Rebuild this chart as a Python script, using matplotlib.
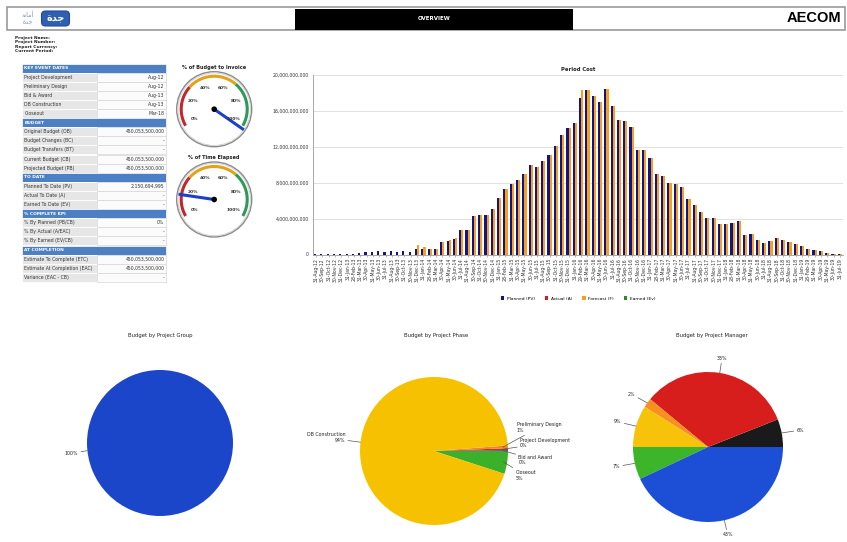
import calendar

import matplotlib
matplotlib.use("Agg")
import matplotlib.pyplot as plt
import numpy as np
from matplotlib.patches import Rectangle, Circle, FancyBboxPatch
from matplotlib.ticker import FuncFormatter

W, H = 847, 542

# ---- period cost, monthly Aug-12 .. Jul-19 (values in billions) ----
period_labels = []
for k in range(84):
    yr, mo = 2012 + (7 + k) // 12, (7 + k) % 12 + 1
    period_labels.append(
        f"{calendar.monthrange(yr, mo)[1]:02d}-{calendar.month_abbr[mo]}-{yr % 100:02d}"
    )

planned_bn = [
    0.02, 0.02, 0.03, 0.03, 0.04, 0.05, 0.10, 0.15, 0.25, 0.30, 0.35, 0.30, 0.35, 0.30, 0.35, 0.25,
    0.60, 0.60, 0.65, 0.65, 1.37, 1.50, 1.70, 2.70, 2.70, 4.33, 4.40, 4.40, 5.10, 6.30, 7.26, 7.90,
    8.30, 9.00, 10.0, 9.70, 10.4, 11.1, 12.1, 13.3, 14.1,
    14.7, 17.4, 18.3, 17.7, 17.0, 18.4, 16.6, 15.0, 14.9, 14.2, 11.6, 11.6, 10.7, 9.00, 8.70, 8.00,
    7.80, 7.50, 6.20, 5.50, 4.70, 4.10, 4.10, 3.40, 3.40, 3.55, 3.70, 2.15, 2.30, 1.65, 1.30, 1.50,
    1.80, 1.65, 1.40, 1.20, 1.00, 0.60, 0.55, 0.40, 0.15, 0.10, 0.08,
]
forecast_bn = [
    0.0, 0.0, 0.0, 0.0, 0.0, 0.0, 0.0, 0.0, 0.0, 0.0, 0.0, 0.0, 0.0, 0.0, 0.0, 0.0,
    1.10, 0.85, 0.65, 0.65, 1.37, 1.60, 1.80, 2.70, 2.70, 4.33, 4.40, 4.40, 5.10, 6.30, 7.26, 7.90,
    8.30, 9.00, 10.0, 9.70, 10.4, 11.1, 12.1, 13.3, 14.1,
    14.7, 18.3, 18.3, 17.7, 17.0, 18.4, 16.6, 15.0, 14.9, 14.2, 11.6, 11.6, 10.7, 9.00, 8.70, 8.00,
    7.80, 7.50, 6.20, 5.50, 4.70, 4.10, 4.10, 3.40, 3.40, 3.55, 3.70, 2.15, 2.30, 1.65, 1.30, 1.50,
    1.80, 1.65, 1.40, 1.20, 1.00, 0.60, 0.55, 0.40, 0.15, 0.10, 0.08,
]
actual_bn = [0.0] * len(period_labels)
earned_bn = [0.0] * len(period_labels)

# ---- gauges ----
budget_to_invoice = 102
time_elapsed = 16

# ---- pies ----
group_names = ["Project Group"]
group_share = [100]

phase_names = ["Closeout", "Bid and Award", "Project Development", "Preliminary Design", "DB Construction"]
phase_share = [5.0, 0.2, 0.4, 0.6, 93.8]

manager_share = [6, 33, 2, 9, 7, 43]

# ---- summary table ----
table_rows = [
    ("KEY EVENT DATES", None),
    ("Project Development", "Aug-12"),
    ("Preliminary Design", "Aug-12"),
    ("Bid & Award", "Aug-13"),
    ("DB Construction", "Aug-13"),
    ("Closeout", "Mar-18"),
    ("BUDGET", None),
    ("Original Budget (OB)", "450,053,500,000"),
    ("Budget Changes (BC)", "-"),
    ("Budget Transfers (BT)", "-"),
    ("Current Budget (CB)", "450,053,500,000"),
    ("Projected Budget (PB)", "450,053,500,000"),
    ("TO DATE", None),
    ("Planned To Date (PV)", "2,150,694,995"),
    ("Actual To Date (A)", "-"),
    ("Earned To Date (EV)", "-"),
    ("% COMPLETE KPI", None),
    ("% By Planned (PB/CB)", "0%"),
    ("% By Actual (A/EAC)", "-"),
    ("% By Earned (EV/CB)", "-"),
    ("AT COMPLETION", None),
    ("Estimate To Complete (ETC)", "450,053,500,000"),
    ("Estimate At Completion (EAC)", "450,053,500,000"),
    ("Variance (EAC - CB)", "-"),
]

info_lines = ["Project Name:", "Project Number:", "Report Currency:", "Current Period:"]

C_PV, C_A, C_F, C_EV = "#12128c", "#e3161b", "#f9a01b", "#2b8a2b"
TXT = "#222222"


def px_box(left, top, w, h):
    return [left / W, 1 - (top + h) / H, w / W, h / H]


fig = plt.figure(figsize=(W / 100, H / 100), dpi=100)
fig.patch.set_facecolor("white")

# full-page overlay in pixel coordinates
ax0 = fig.add_axes([0, 0, 1, 1])
ax0.set_xlim(0, W)
ax0.set_ylim(H, 0)
ax0.axis("off")

# header
ax0.add_patch(Rectangle((6.5, 7), 838.5, 23, fc="white", ec="#9a9a9a", lw=1.2))
ax0.add_patch(Rectangle((295, 8.5), 278, 21.5, fc="black", ec="none"))
ax0.text(434, 18.5, "OVERVIEW", color="white", fontsize=4, fontweight="bold", ha="center", va="center")
ax0.text(841, 18, "AECOM", fontsize=10.5, fontweight="bold", ha="right", va="center",
         family="Liberation Sans", color="black")
# logo
ax0.text(28, 14.5, "\uFE94\uFEE7\uFE8E\uFEE3\uFE83", fontsize=4.5, color="#7f93aa", ha="center",
         va="center", family="DejaVu Sans")
ax0.text(28, 22.5, "\uFE93\uFEAA\uFE9F", fontsize=4.5, color="#7f93aa", ha="center",
         va="center", family="DejaVu Sans")
ax0.add_patch(FancyBboxPatch((43, 12.5), 25, 12, boxstyle="round,pad=1.5,rounding_size=4",
                             fc="#2f5fb0", ec="#1f4a9a", lw=0.8))
ax0.text(55.5, 18.5, "\uFE93\uFEAA\uFE9F", fontsize=7, fontweight="bold", color="white",
         ha="center", va="center", family="DejaVu Sans")

for i, line in enumerate(info_lines):
    ax0.text(15, 38.3 + i * 4.2, line, fontsize=3.2, fontweight="bold", color=TXT, va="center")

# summary table
top, rh, x0, xm, x1 = 63.5, 9.1, 22, 97, 166
for i, (label, val) in enumerate(table_rows):
    y = top + i * rh
    if val is None:
        ax0.add_patch(Rectangle((x0, y), x1 - x0, rh, fc="#4d7fc4", ec="white", lw=0.5))
        ax0.text(x0 + 2.5, y + rh / 2, label, color="white", fontsize=3.2, fontweight="bold", va="center")
    else:
        ax0.add_patch(Rectangle((x0, y), xm - x0, rh, fc="#e6e6e6", ec="white", lw=0.6))
        ax0.add_patch(Rectangle((xm, y), x1 - xm, rh, fc="#fbfbfb", ec="#d6d6d6", lw=0.5))
        ax0.text(x0 + 2.5, y + rh / 2, label, color="#333333", fontsize=3.3, va="center")
        ax0.text(x1 - 1.5, y + rh / 2, val, color="#333333", fontsize=3.3, va="center", ha="right")


# gauges
def gauge_angle(v):
    return np.radians(210 - 2.4 * v)


def draw_gauge(cx, cy, value, title):
    ax0.text(cx, cy - 41.5, title, fontsize=3.6, fontweight="bold", ha="center", va="center", color=TXT)
    ax0.add_patch(Circle((cx, cy), 37.5, fc="white", ec="#8a8a8a", lw=1.0))
    ax0.add_patch(Circle((cx, cy), 36.2, fc="none", ec="#c8c8c8", lw=0.5))
    for lo, hi, col in [(0, 30, "#c1272d"), (30, 67, "#e3a21a"), (67, 100, "#2e9a5a")]:
        t = gauge_angle(np.linspace(lo, hi, 60))
        ax0.plot(cx + 33 * np.cos(t), cy - 33 * np.sin(t), color=col, lw=2.2, solid_capstyle="butt")
    for v in range(0, 101, 20):
        t = gauge_angle(v)
        ax0.text(cx + 22.5 * np.cos(t), cy - 22.5 * np.sin(t) - 1, f"{v}%", fontsize=3.2,
                 fontweight="bold", ha="center", va="center", color="#333333")
    t = gauge_angle(value)
    ax0.plot([cx, cx + 36 * np.cos(t)], [cy, cy - 36 * np.sin(t)], color="#1c3fcc", lw=2.2,
             solid_capstyle="butt")
    ax0.add_patch(Circle((cx, cy), 2.8, fc="black", ec="none", zorder=5))


draw_gauge(214.2, 109.2, budget_to_invoice, "% of Budget to Invoice")
draw_gauge(214.2, 199.5, time_elapsed, "% of Time Elapsed")

# period cost bar chart
ax = fig.add_axes(px_box(313, 75, 530, 179.5))
x = np.arange(len(period_labels))
bw = 0.34
ax.bar(x - bw / 2, np.array(planned_bn) * 1e9, bw, color=C_PV, label="Planned (PV)", zorder=3)
ax.bar(x, np.array(actual_bn) * 1e9, bw, color=C_A, label="Actual (A)", zorder=3)
ax.bar(x + bw / 2, np.array(forecast_bn) * 1e9, bw, color=C_F, label="Forecast (F)", zorder=3)
ax.bar(x, np.array(earned_bn) * 1e9, bw, color=C_EV, label="Earned (Ev)", zorder=3)
ax.set_xlim(-0.5, len(period_labels) - 0.5)
ax.set_ylim(0, 20e9)
ax.set_yticks(np.arange(0, 20e9 + 1, 4e9))
ax.yaxis.set_major_formatter(FuncFormatter(lambda v, p: f"{v:,.0f}"))
ax.set_xticks(x)
ax.set_xticklabels(period_labels, rotation=90, fontsize=3.3, color="#333333")
ax.tick_params(axis="y", labelsize=3.3, length=0, pad=3, colors="#333333")
ax.tick_params(axis="x", length=1.5, width=0.4, pad=1, color="#888888")
ax.grid(axis="y", color="#dcdcdc", lw=0.6, zorder=0)
for s in ["top", "right"]:
    ax.spines[s].set_visible(False)
for s in ["left", "bottom"]:
    ax.spines[s].set_color("#9a9a9a")
    ax.spines[s].set_linewidth(0.6)
ax.set_title("Period Cost", fontsize=3.8, fontweight="bold", pad=3, color=TXT)
ax.legend(ncol=4, loc="center", bbox_to_anchor=(0.5, -0.245), frameon=False, fontsize=3.2,
          handlelength=0.8, handleheight=0.8, columnspacing=2.2, handletextpad=0.6)

# pies
PIE_TXT = dict(fontsize=3.4, color=TXT)
LINE = dict(arrowstyle="-", color="#555555", lw=0.5, shrinkA=0, shrinkB=0)


def pie_axes(cx, cy, r):
    a = fig.add_axes(px_box(cx - r, cy - r, 2 * r, 2 * r))
    return a


def finish_pie(a):
    a.set_xlim(-1, 1)
    a.set_ylim(-1, 1)
    a.set_aspect("equal")
    a.axis("off")


ax0.text(160, 336, "Budget by Project Group", fontsize=3.8, ha="center", va="center", color=TXT)
ax0.text(436, 336, "Budget by Project Phase", fontsize=3.8, ha="center", va="center", color=TXT)
ax0.text(712, 336, "Budget by Project Manager", fontsize=3.8, ha="center", va="center", color=TXT)

# group
ap = pie_axes(160, 443, 73)
w1, _ = ap.pie(group_share, colors=["#1b46c9"], startangle=6, wedgeprops=dict(lw=0))
finish_pie(ap)
for w, v in zip(w1, group_share):
    m = np.radians((w.theta1 + w.theta2) / 2)
    ap.annotate(f"{v}%", xy=(np.cos(m), np.sin(m)), xytext=(-1.12, -0.14),
                ha="right", va="center", arrowprops=LINE, annotation_clip=False, **PIE_TXT)

# phase
ap = pie_axes(434, 451, 74)
phase_colors = ["#3bb02a", "#2a4fc0", "#d42a1c", "#f08a1c", "#f6c200"]
w2, _ = ap.pie(phase_share, colors=phase_colors, startangle=-18, wedgeprops=dict(lw=0))
finish_pie(ap)
phase_text = {
    "Closeout": ((1.1, -0.33), "left", 0.95),
    "Bid and Award": ((1.14, -0.12), "left", 0.93),
    "Project Development": ((1.16, 0.11), "left", 0.93),
    "Preliminary Design": ((1.12, 0.32), "left", 0.93),
    "DB Construction": ((-1.2, 0.18), "right", 1.0),
}
for w, name, v in zip(w2, phase_names, phase_share):
    m = np.radians((w.theta1 + w.theta2) / 2)
    pos, ha, rr = phase_text[name]
    tx = pos[0] - 0.02 if ha == "left" else pos[0] + 0.02
    ap.annotate(f"{name}\n{round(v)}%", xy=(rr * np.cos(m), rr * np.sin(m)), xytext=pos,
                ha=ha, va="center", arrowprops=LINE, annotation_clip=False, linespacing=1.1,
                **PIE_TXT)

# manager
ap = pie_axes(708, 447, 75)
manager_colors = ["#1a1a1a", "#d81d1d", "#f7901e", "#f7c20a", "#3db52b", "#1c4ed6"]
w3, _ = ap.pie(manager_share, colors=manager_colors, startangle=0, wedgeprops=dict(lw=0))
finish_pie(ap)
for w, v in zip(w3, manager_share):
    m = np.radians((w.theta1 + w.theta2) / 2)
    ha = "left" if np.cos(m) > 0.3 else ("right" if np.cos(m) < -0.3 else "center")
    ap.annotate(f"{v}%", xy=(np.cos(m), np.sin(m)), xytext=(1.2 * np.cos(m), 1.2 * np.sin(m)),
                ha=ha, va="center", arrowprops=LINE, annotation_clip=False, **PIE_TXT)

fig.savefig("out.png", dpi=100)
